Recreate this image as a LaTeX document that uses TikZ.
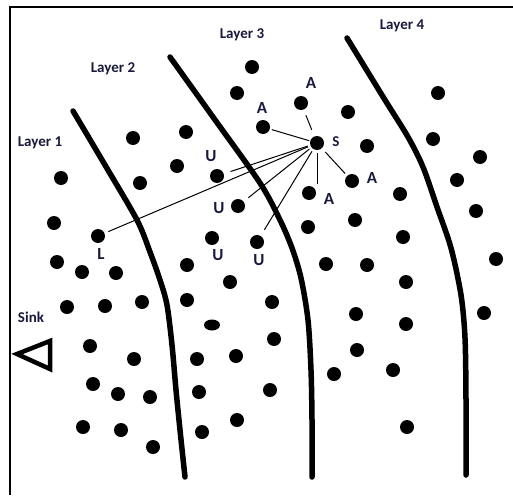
\documentclass[tikz,border=0pt]{standalone}
\usepackage{fontspec}
\setmainfont{Carlito}
\usetikzlibrary{shapes.geometric}

\definecolor{labelnavy}{RGB}{25,25,60}

\tikzset{
  sensor/.style={circle, fill=black, inner sep=0pt, minimum size=14pt},
  layerlabel/.style={anchor=base, inner sep=0pt, text=labelnavy,
    font=\bfseries\fontsize{15}{18}\selectfont},
  rolelabel/.style={anchor=base, inner sep=0pt, text=labelnavy,
    font=\bfseries\fontsize{17}{20}\selectfont},
  boundary/.style={line width=5.5pt, line cap=round},
  link/.style={line width=1pt}
}

\begin{document}
\begin{tikzpicture}[x=1pt, y=-1pt]
  \useasboundingbox (0,0) rectangle (513,495);

  % Frame
  \draw[line width=2.5pt] (10,495) -- (10,7) -- (513,7);

  % Layer boundaries
  \draw[boundary] plot[smooth] coordinates {(73,111) (105,165) (137,220)
    (150,252) (160,280) (167,305) (172,345) (176,390) (180,430) (185,477)};
  \draw[boundary] plot[smooth] coordinates {(170,57) (213,117) (260,183)
    (280,220) (292,248) (301,278) (308,320) (311,370) (312,420) (312,477)};
  \draw[boundary] plot[smooth] coordinates {(347,38) (385,100) (408,137)
    (423,167) (437,207) (451,248) (461,295) (465,338) (466,400) (466,475)};

  % Sink
  \draw[line width=4.5pt, line join=miter] (17,354) -- (50,341) -- (50,369) -- cycle;

  % Layer 1 sensors
  \node[sensor] (p1) at (61,178) {};
  \node[sensor] (p2) at (54,223) {};
  \node[sensor] (l) at (98,236) {};
  \node[sensor] (p3) at (57,262) {};
  \node[sensor] (p4) at (82,272) {};
  \node[sensor] (p5) at (116,273) {};
  \node[sensor] (p6) at (67,307) {};
  \node[sensor] (p7) at (105,306) {};
  \node[sensor] (p8) at (142,302) {};
  \node[sensor] (p9) at (90,346) {};
  \node[sensor] (p10) at (134,359) {};
  \node[sensor] (p11) at (93,384) {};
  \node[sensor] (p12) at (118,394) {};
  \node[sensor] (p13) at (150,397) {};
  \node[sensor] (p14) at (83,427) {};
  \node[sensor] (p15) at (121,430) {};
  \node[sensor] (p16) at (153,447) {};

  % Layer 2 sensors
  \node[sensor] (q1) at (133,138) {};
  \node[sensor] (q2) at (186,132) {};
  \node[sensor] (q3) at (177,166) {};
  \node[sensor] (q4) at (140,183) {};
  \node[sensor] (u1) at (217,176) {};
  \node[sensor] (u2) at (238,206) {};
  \node[sensor] (u3) at (212,238) {};
  \node[sensor] (u4) at (257,242) {};
  \node[sensor] (q5) at (187,265) {};
  \node[sensor] (q6) at (230,282) {};
  \node[sensor] (q7) at (187,300) {};
  \node[sensor, ellipse, minimum width=16pt, minimum height=11pt] (q8) at (212,325) {};
  \node[sensor] (q9) at (197,359) {};
  \node[sensor] (q10) at (236,356) {};
  \node[sensor] (q11) at (199,392) {};
  \node[sensor] (q12) at (237,420) {};
  \node[sensor] (q13) at (202,432) {};
  \node[sensor] (q14) at (272,302) {};
  \node[sensor] (q15) at (274,339) {};
  \node[sensor] (q16) at (270,390) {};

  % Layer 3 sensors
  \node[sensor] (r1) at (252,67) {};
  \node[sensor] (r2) at (237,93) {};
  \node[sensor] (aTop) at (301,103) {};
  \node[sensor] (aLeft) at (263,127) {};
  \node[sensor] (s) at (317,143) {};
  \node[sensor] (aRight) at (352,181) {};
  \node[sensor] (aBot) at (309,193) {};
  \node[sensor] (r3) at (348,112) {};
  \node[sensor] (r4) at (367,146) {};
  \node[sensor] (r5) at (400,194) {};
  \node[sensor] (r6) at (355,220) {};
  \node[sensor] (r7) at (308,227) {};
  \node[sensor] (r8) at (403,237) {};
  \node[sensor] (r9) at (326,264) {};
  \node[sensor] (r10) at (367,265) {};
  \node[sensor] (r11) at (406,282) {};
  \node[sensor] (r12) at (356,314) {};
  \node[sensor] (r13) at (406,324) {};
  \node[sensor] (r14) at (357,350) {};
  \node[sensor] (r15) at (393,370) {};
  \node[sensor] (r16) at (334,374) {};
  \node[sensor] (r17) at (407,427) {};

  % Layer 4 sensors
  \node[sensor] (t1) at (438,93) {};
  \node[sensor] (t2) at (433,139) {};
  \node[sensor] (t3) at (480,157) {};
  \node[sensor] (t4) at (457,180) {};
  \node[sensor] (t5) at (476,211) {};
  \node[sensor] (t6) at (496,259) {};
  \node[sensor] (t7) at (484,313) {};

  % Links from S
  \draw[link, shorten <=7pt, shorten >=6pt] (s) -- (aTop);
  \draw[link, shorten <=1pt, shorten >=2pt] (s) -- (aLeft);
  \draw[link, shorten <=5pt, shorten >=3pt] (s) -- (aRight);
  \draw[link, shorten <=3pt, shorten >=2pt] (s.south) -- (s.south |- aBot.north);
  \draw[link, shorten <=2.5pt, shorten >=7pt] (s) -- (u1);
  \draw[link, shorten <=2.5pt, shorten >=4pt] (s) -- (l);
  \draw[link, shorten <=2.5pt, shorten >=6pt] (s) -- (u2);
  \draw[link, shorten <=2.5pt, shorten >=7pt] (s) -- (u4);

  % Layer labels
  \node[layerlabel] (lay1) at (40,146) {Layer 1};
  \node[layerlabel] (lay2) at (113,72) {Layer 2};
  \node[layerlabel] (lay3) at (242,39) {Layer 3};
  \node[layerlabel] (lay4) at (402,30) {Layer 4};
  \node[layerlabel] (sinkl) at (31,322) {Sink};

  % Role labels
  \node[rolelabel] (lblS) at (336,146) {\fontsize{15}{18}\selectfont S};
  \node[rolelabel] (lblA1) at (311,88) {A};
  \node[rolelabel] (lblA2) at (262,113) {A};
  \node[rolelabel] (lblA3) at (372,183) {A};
  \node[rolelabel] (lblA4) at (329,204) {A};
  \node[rolelabel] (lblU1) at (211,161) {U};
  \node[rolelabel] (lblU2) at (219,213) {U};
  \node[rolelabel] (lblU3) at (218,260) {U};
  \node[rolelabel] (lblU4) at (259,265) {U};
  \node[rolelabel] (lblL) at (101,259) {L};
\end{tikzpicture}
\end{document}
